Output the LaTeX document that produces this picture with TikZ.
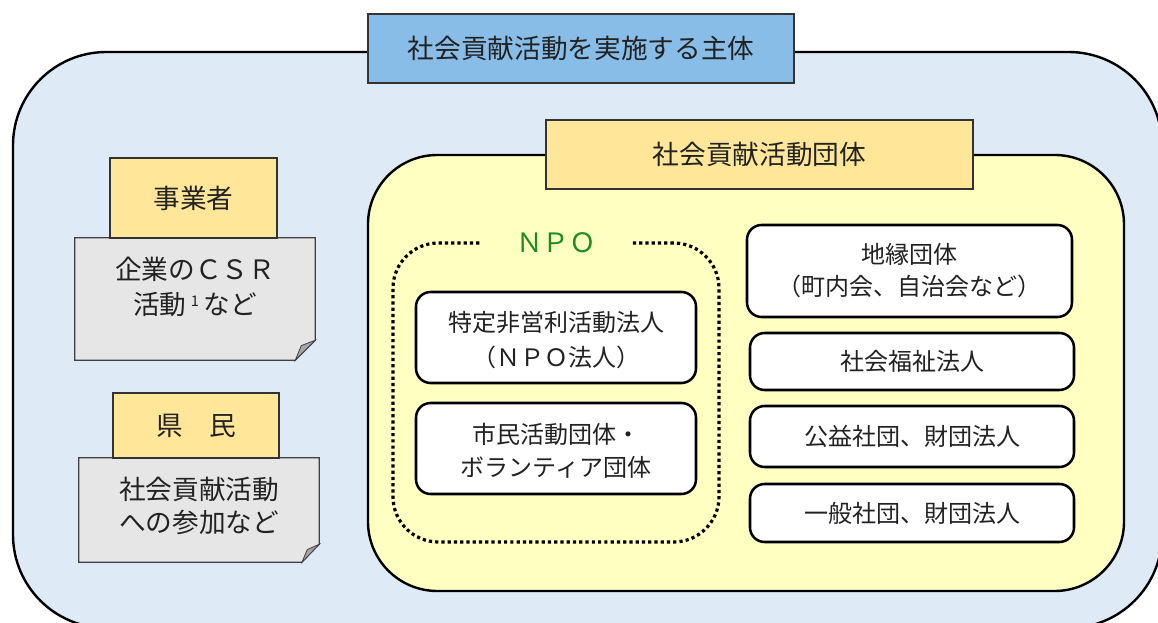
\documentclass[tikz,border=0pt]{standalone}
\usepackage{fontspec}
\setmainfont{Noto Sans CJK JP}
\usetikzlibrary{fit}
\definecolor{outerfill}{HTML}{DEEAF6}
\definecolor{titlefill}{HTML}{88BDE7}
\definecolor{yelfill}{HTML}{FFFFC1}
\definecolor{labfill}{HTML}{FFE699}
\definecolor{notefill}{HTML}{E6E6E6}
\definecolor{foldfill}{HTML}{A6A6A6}
\definecolor{txt}{HTML}{222222}
\definecolor{npogreen}{HTML}{1E8C1E}
\begin{document}
\begin{tikzpicture}[x=0.75pt,y=-0.75pt,
  every node/.style={text=txt},
  fitbox/.style={fit={#1}, inner sep=0pt},
  bigfont/.style={font=\fontsize{20}{26}\selectfont},
  smallfont/.style={font=\fontsize{18}{26.25}\selectfont},
  container/.style={draw=black, line width=1.8pt},
  labbox/.style={draw=black!80, line width=0.8pt},
  wbox/.style={draw=black, fill=white, line width=1.9pt, rounded corners=11pt},
  wtext/.style={smallfont, align=center},
  notebox/.style={draw=black!75, line width=0.8pt, fill=notefill},
  foldtri/.style={draw=black!75, line width=0.6pt, fill=foldfill},
  dotline/.style={draw=black, line width=2.4pt, dash pattern=on 2.4pt off 2.3pt, rounded corners=34pt}
]
\useasboundingbox (0,0) rectangle (1158,623);
\fill[white] (0,0) rectangle (1158,623);

% outer container
\node[fitbox={(13,52)(1162,628)}, container, fill=outerfill, rounded corners=70pt] (outer) {};
\node[fitbox={(368,14)(794,83)}, labbox, fill=titlefill] (title) {};
\node[bigfont] (titletxt) at (title.center) {社会貢献活動を実施する主体};

% yellow container
\node[fitbox={(368,155)(1124,591)}, container, fill=yelfill, rounded corners=52pt] (group) {};
\node[fitbox={(546,120)(973,189)}, labbox, fill=labfill] (grouplab) {};
\node[bigfont] (grouplabtxt) at (grouplab.center) {社会貢献活動団体};

% left: businesses
\node[fitbox={(75,238)(315,360)}] (note1) {};
\path[notebox] (note1.north west) -- (note1.north east) -- ([yshift=15pt]note1.south east)
  -- ([xshift=-15pt]note1.south east) -- (note1.south west) -- cycle;
\path[foldtri] ([yshift=15pt]note1.south east) -- ([xshift=-10.5pt,yshift=11pt]note1.south east)
  -- ([xshift=-15pt]note1.south east) -- cycle;
\node[fitbox={(110,158)(277,238)}, labbox, fill=labfill] (biz) {};
\node[bigfont] (biztxt) at (biz.center) {事業者};
\node[align=center, font=\fontsize{20}{26.25}\selectfont] (note1txt) at (195,287) {企業のＣＳＲ\\活動\,\raisebox{0.55ex}{\fontsize{11}{12}\selectfont 1}\,など};

% left: citizens
\node[fitbox={(79,458)(319,562)}] (note2) {};
\path[notebox] (note2.north west) -- (note2.north east) -- ([yshift=13.5pt]note2.south east)
  -- ([xshift=-13pt]note2.south east) -- (note2.south west) -- cycle;
\path[foldtri] ([yshift=13.5pt]note2.south east) -- ([xshift=-9pt,yshift=9.5pt]note2.south east)
  -- ([xshift=-13pt]note2.south east) -- cycle;
\node[fitbox={(113,393)(279,458)}, labbox, fill=labfill] (citizen) {};
\node[bigfont] (citizentxt) at (citizen.center) {県　民};
\node[align=center, font=\fontsize{20}{25}\selectfont] (note2txt) at (199,506) {社会貢献活動\\への参加など};

% NPO group
\node[fitbox={(393,243)(719,542)}, dotline] (npo) {};
\node[fill=yelfill, minimum width=112pt, minimum height=18pt, inner sep=0pt,
      text=npogreen, font=\fontsize{20}{24}\selectfont] (npolab) at (556,243) {ＮＰＯ};
\node[fitbox={(416,292)(696,383)}, wbox] (npohojin) {};
\node[wtext] (npohojintxt) at ([yshift=-2pt]npohojin.center) {特定非営利活動法人\\（ＮＰＯ法人）};
\node[fitbox={(416,403)(696,494)}, wbox] (shimin) {};
\node[wtext, font=\fontsize{18}{24.75}\selectfont] (shimintxt) at ([yshift=-2pt]shimin.center) {市民活動団体・\\ボランティア団体};

% right column
\node[fitbox={(747,225)(1072,317)}, wbox] (chien) {};
\node[wtext, font=\fontsize{18}{24}\selectfont] (chientxt) at (chien.center) {地縁団体\\（町内会、自治会など）};
\node[fitbox={(750,333)(1074,390)}, wbox] (fukushi) {};
\node[wtext] (fukushitxt) at (fukushi.center) {社会福祉法人};
\node[fitbox={(750,406)(1074,467)}, wbox] (koeki) {};
\node[wtext] (koekitxt) at (koeki.center) {公益社団、財団法人};
\node[fitbox={(750,484)(1074,542)}, wbox] (ippan) {};
\node[wtext] (ippantxt) at (ippan.center) {一般社団、財団法人};
\end{tikzpicture}
\end{document}
